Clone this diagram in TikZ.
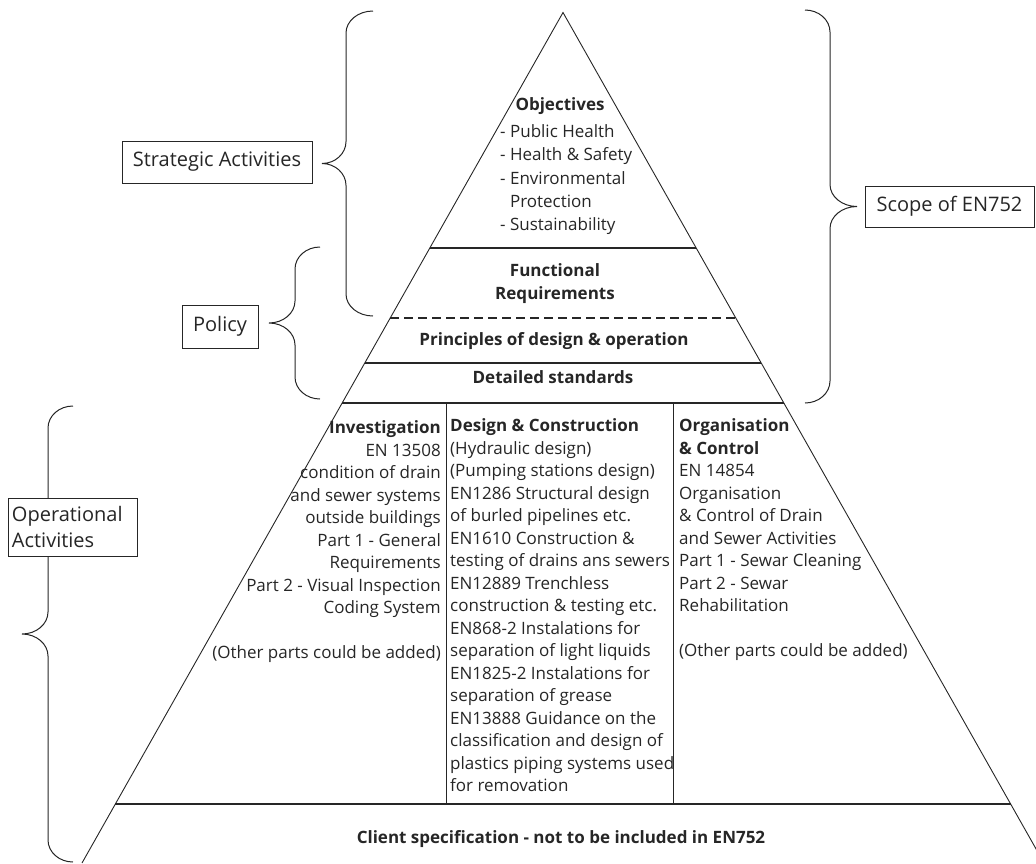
\documentclass[tikz,border=0pt]{standalone}
\usepackage{fontspec}
\setmainfont{Open Sans}
\newcommand\fstrut{\rule{0pt}{14pt}}
% curly brace: tip x, spine x, point x, top y, middle y, bottom y
\newcommand\drawcurly[6]{%
  \draw[curly] (#1,#4) .. controls ({#1+0.552*(#2-#1)},#4) and (#2,{#4+9.9}) .. (#2,{#4+22})
    -- (#2,{#5-22}) .. controls (#2,{#5-9.9}) and ({#3+0.552*(#2-#3)},#5) .. (#3,#5)
    .. controls ({#3+0.552*(#2-#3)},#5) and (#2,{#5+9.9}) .. (#2,{#5+22})
    -- (#2,{#6-22}) .. controls (#2,{#6-9.9}) and ({#1+0.552*(#2-#1)},#6) .. (#1,#6);}
\tikzset{
  edge/.style={line width=0.9pt},
  band/.style={line width=1.3pt},
  curly/.style={line width=1pt},
  txt/.style={inner sep=0pt, font=\fontsize{17}{22.5}\selectfont},
  bfont/.style={inner sep=0pt, font=\fontsize{17}{22.5}\selectfont\bfseries},
  tag/.style={draw, fill=white, line width=1pt, inner sep=0pt, font=\fontsize{20}{26}\selectfont},
}
\begin{document}
\begin{tikzpicture}[x=1pt, y=-1pt, color=black!85]
\useasboundingbox (0,0) rectangle (1036,863);
\clip (0,0) rectangle (1036,863);

% pyramid outline and levels
\coordinate (apex) at (563,12.5);
\coordinate (bl) at (82,863);
\coordinate (br) at (1044,863);
\coordinate (o1l) at (429.7,248);  \coordinate (o1r) at (696.3,248);
\coordinate (dl) at (390.1,318);   \coordinate (dr) at (735.9,318);
\coordinate (p1l) at (364.6,363);  \coordinate (p1r) at (761.4,363);
\coordinate (s1l) at (342.0,403);  \coordinate (s1r) at (784.0,403);
\coordinate (cl) at (115.0,804);   \coordinate (cr) at (1011.0,804);
\coordinate (c1t) at (446,403);    \coordinate (c1b) at (446,804);
\coordinate (c2t) at (673,403);    \coordinate (c2b) at (673,804);

\draw[edge] (bl) -- (apex) -- (br);
\draw[band] (o1l) -- (o1r);
\draw[band, dash pattern=on 9pt off 5pt] (dl) -- (dr);
\draw[band] (p1l) -- (p1r);
\draw[band] (s1l) -- (s1r);
\draw[band] (cl) -- (cr);
\draw[edge] (c1t) -- (c1b);
\draw[edge] (c2t) -- (c2b);

% braces
\drawcurly{373}{346}{322}{11}{163.5}{316}
\drawcurly{320}{295}{269}{247}{323}{399}
\drawcurly{805}{830}{857}{10}{206.5}{403}
\drawcurly{73}{48}{22}{406}{634}{862}

% side labels
\node[tag, minimum width=190pt, minimum height=42pt] (strat) at (217,162) {Strategic Activities};
\node[tag, minimum width=76pt, minimum height=43pt] (policy) at (220,326.5) {Policy};
\node[tag, minimum width=169pt, minimum height=41pt] (scope) at (949.5,206.5) {Scope of EN752};
\node[tag, inner xsep=4pt, text width=121pt, minimum height=58pt, align=left] (oper) at (72.5,527) {Operational\\Activities};

% pyramid texts
\node[bfont, anchor=north] (objtitle) at (560,96.5) {\fstrut Objectives};
\node[txt, anchor=north west, align=left, font=\fontsize{17}{23.2}\selectfont] (objlist) at (500,123.5)
  {\fstrut- Public Health\\- Health \& Safety\\- Environmental\\\phantom{- }Protection\\- Sustainability};
\node[bfont, anchor=north, align=center, font=\fontsize{17}{23}\selectfont\bfseries] (func) at (555,262.5)
  {\fstrut Functional\\Requirements};
\node[bfont, anchor=north] (princ) at (554,331.5) {\fstrut Principles of design \& operation};
\node[bfont, anchor=north] (detail) at (553,369.5) {\fstrut Detailed standards};

\node[txt, anchor=north east, align=right] (invest) at (441,419.5)
  {\fstrut\textbf{Investigation}\\EN 13508\\condition of drain\\and sewer systems\\outside buildings\\Part 1 - General\\Requirements\\Part 2 - Visual Inspection\\Coding System\\[22.5pt](Other parts could be added)};
\node[txt, anchor=north west, align=left] (design) at (450,417.5)
  {\fstrut\textbf{Design \& Construction}\\(Hydraulic design)\\(Pumping stations design)\\EN1286 Structural design\\of burled pipelines etc.\\EN1610 Construction \&\\testing of drains ans sewers\\EN12889 Trenchless\\construction \& testing etc.\\EN868-2 Instalations for\\separation of light liquids\\EN1825-2 Instalations for\\separation of grease\\EN13888 Guidance on the\\classification and design of\\plastics piping systems used\\for removation};
\node[txt, anchor=north west, align=left] (org) at (679,417.5)
  {\fstrut\textbf{Organisation}\\\textbf{\& Control}\\EN 14854\\Organisation\\\& Control of Drain\\and Sewer Activities\\Part 1 - Sewar Cleaning\\Part 2 - Sewar\\Rehabilitation\\[22.5pt](Other parts could be added)};

\node[bfont, anchor=north] (client) at (561,829) {\fstrut Client specification - not to be included in EN752};
\end{tikzpicture}
\end{document}
